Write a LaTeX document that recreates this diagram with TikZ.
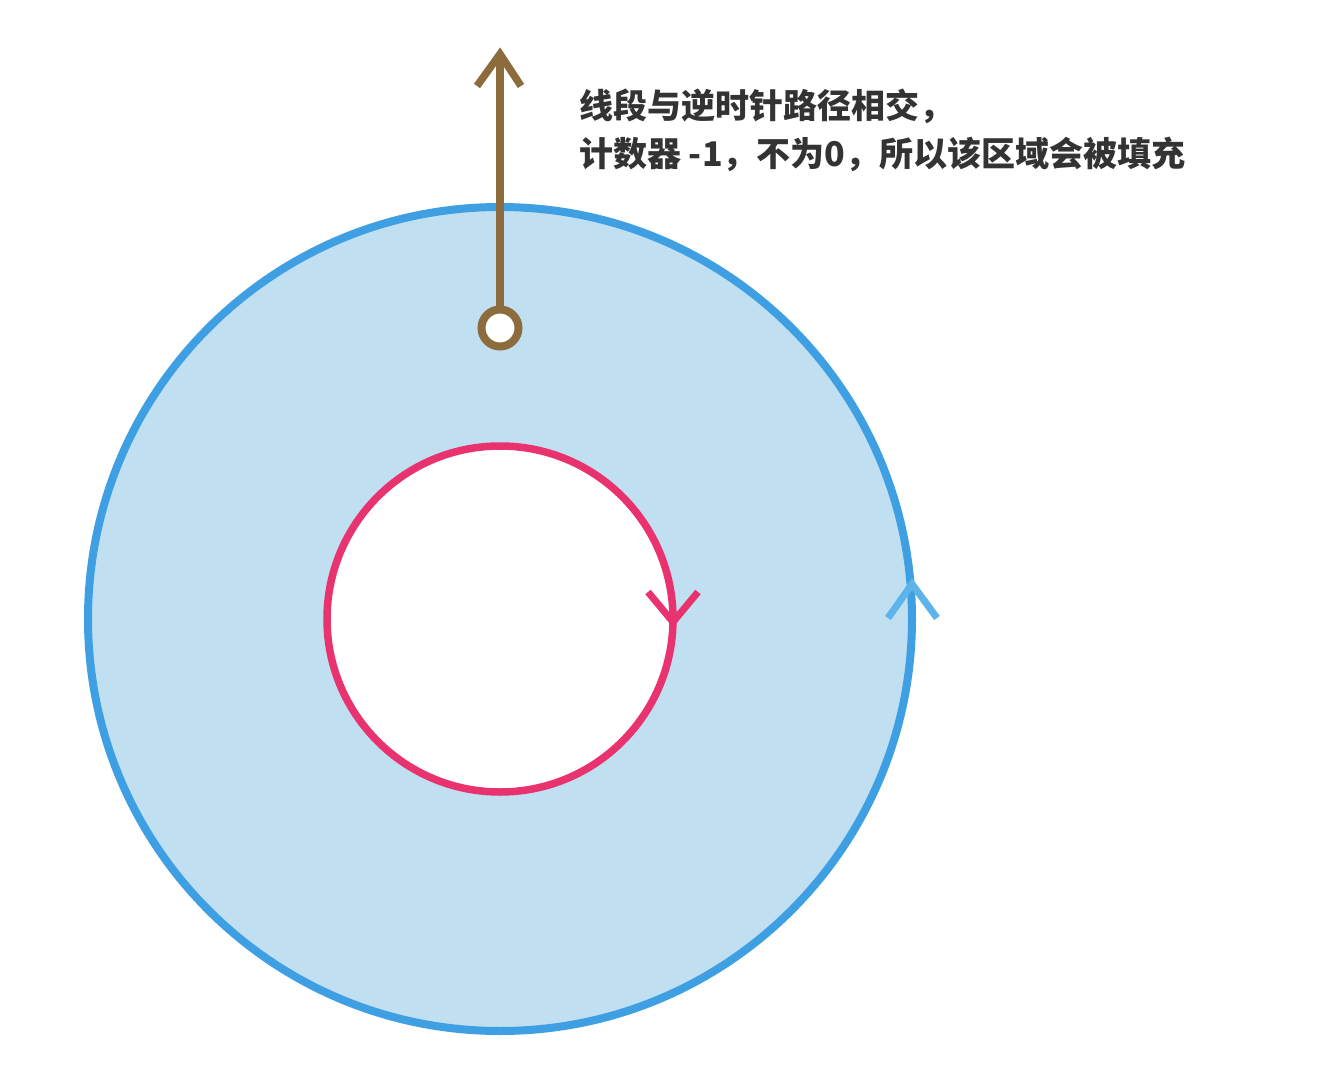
\documentclass[tikz,border=0pt]{standalone}
\usepackage{fontspec}
\newfontfamily\cjk{Noto Sans CJK SC}
\definecolor{outerblue}{HTML}{3F9FE3}
\definecolor{headblue}{HTML}{5CB4EA}
\definecolor{ringfill}{HTML}{C0DFF1}
\definecolor{pinkline}{HTML}{E8336F}
\definecolor{brownline}{HTML}{8C6B3D}
\definecolor{textgray}{HTML}{333333}
\tikzset{
  outerpath/.style={draw=outerblue, line width=8pt},
  innerpath/.style={draw=pinkline, line width=7.5pt},
  rayline/.style={draw=brownline, line width=7.5pt},
  chevron/.style={line width=7pt, line join=miter, line cap=butt},
  note/.style={font=\cjk\bfseries\fontsize{34pt}{40pt}\selectfont, text=textgray, anchor=base west, inner sep=0pt}
}
\begin{document}
\begin{tikzpicture}[x=1pt,y=-1pt]
\useasboundingbox (0,0) rectangle (1330,1078);
\coordinate (c) at (500,619);
% ring fill
\fill[ringfill] (c) circle[radius=412pt];
\fill[white] (c) circle[radius=173pt];
% paths
\draw[outerpath] (c) circle[radius=412pt];
\draw[innerpath] (c) circle[radius=173pt];
% direction marks
\coordinate (pinktip) at (673,622);
\draw[chevron, draw=pinkline] (648,592) -- (pinktip) -- (698,592);
\coordinate (bluetip) at (912,584);
\draw[chevron, draw=headblue] (888,618) -- (bluetip) -- (937,618);
% ray
\node[draw=brownline, line width=8pt, fill=white, circle, minimum size=37pt, inner sep=0pt] (start) at (500,328) {};
\coordinate (raytip) at (500,54);
\draw[rayline] (start.north) -- (raytip);
\draw[chevron, draw=brownline, line width=7.5pt] (477,86) -- (raytip) -- (521,86);
% text
\node[note] (l1) at (579,119) {线段与逆时针路径相交，};
\node[note] (l2) at (579,167) {计数器 -1，不为0，所以该区域会被填充};
\end{tikzpicture}
\end{document}
